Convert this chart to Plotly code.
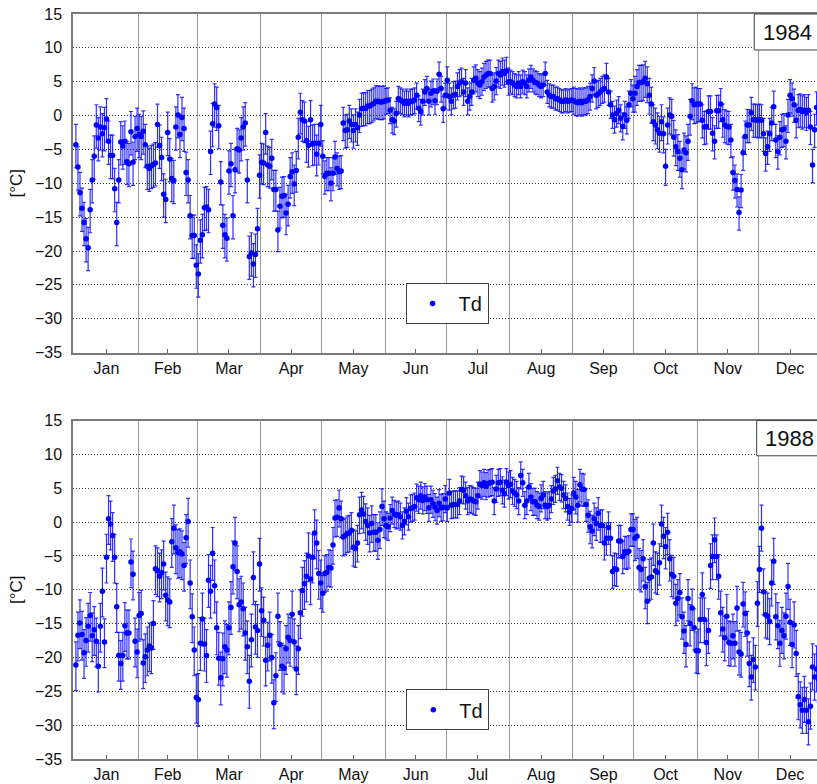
import pandas as pd
import plotly.graph_objects as go

MONTHS = ["Jan", "Feb", "Mar", "Apr", "May", "Jun",
          "Jul", "Aug", "Sep", "Oct", "Nov", "Dec"]

# Daily mean dew point Td [°C], one inner list per month
td_1984 = [
    [-4.3, -7.6, -11.4, -13.7, -15.8, -18.2, -19.5, -13.9, -9.5, -6.0, -1.4, -3.3, -1.7, -2.7, -1.8, -0.5,
     -3.8, -5.9, -5.9, -10.8, -15.8, -9.5, -3.9, -4.5, -3.8, -6.8, -7.1, -2.4, -6.9, -3.1, -1.9],
    [-2.8, -3.1, -2.3, -4.3, -7.5, -7.8, -7.4, -7.2, -7.0, -1.3, -4.4, -6.2, -11.6, -12.4, -2.5, -6.4,
     -9.3, -9.6, -1.7, 0.1, -2.8, -0.3, -1.9, -8.4, -9.5, -14.8, -17.7, -17.7, -22.1],
    [-23.4, -18.4, -17.6, -13.6, -13.5, -13.9, -5.3, -1.2, 1.7, 1.2, -1.5, -9.8, -16.2, -17.6, -18.1, -8.2,
     -7.1, -14.8, -8.0, -4.9, -5.1, -3.3, -1.7, -1.1, -9.5, -20.8, -20.3, -21.9, -20.5, -16.7, -8.8],
    [-6.9, -7.0, -2.5, -7.3, -7.5, -6.3, -10.9, -10.9, -16.9, -13.4, -11.9, -11.8, -14.4, -13.1, -9.0,
     -8.3, -10.1, -8.1, -3.2, 0.5, -0.6, -0.8, -3.7, -4.4, -0.6, -4.2, -4.1, -5.7, -4.1, -1.3],
    [-6.0, -9.0, -8.5, -8.5, -10.0, -8.5, -6.1, -7.8, -8.3, -8.2, -1.1, -2.2, -2.1, -0.8, -1.3, -2.2,
     -1.3, -1.8, 0.1, 1.0, 1.1, 1.1, 1.4, 1.4, 1.6, 1.8, 2.1, 2.1, 2.0, 2.0, 2.1],
    [2.2, 2.3, 0.8, -0.6, -0.8, 0.3, 2.5, 2.3, 2.1, 1.8, 2.1, 1.8, 2.1, 2.1, 2.3, 3.0,
     1.1, 0.6, 2.1, 3.5, 4.0, 2.1, 3.3, 3.6, 2.2, 3.6, 6.1, 4.0, 1.0, 3.0],
    [5.2, 2.8, 2.1, 3.0, 3.1, 4.3, 4.8, 5.0, 3.5, 4.8, 2.1, 2.8, 3.5, 5.2, 5.5, 4.8,
     4.5, 5.0, 5.7, 6.0, 6.2, 6.2, 4.0, 4.3, 5.1, 6.2, 6.0, 6.5, 6.2, 6.6, 5.0],
    [5.0, 4.8, 4.5, 4.3, 4.8, 4.3, 5.0, 4.8, 4.3, 5.2, 5.7, 5.2, 4.9, 4.8, 4.5, 4.3,
     4.5, 6.2, 3.5, 3.0, 2.8, 2.8, 2.5, 2.5, 2.3, 2.1, 2.1, 2.3, 2.1, 2.2, 2.3],
    [2.2, 2.0, 1.9, 2.1, 1.9, 2.1, 2.1, 2.3, 2.8, 4.0, 5.1, 3.0, 3.2, 3.5, 3.8, 4.0,
     5.7, 3.5, 1.6, 0.1, -0.6, 0.3, 0.8, -0.4, -1.6, 0.1, -0.7, 1.6, 3.3, 2.5],
    [3.3, 4.3, 4.9, 4.9, 5.0, 5.5, 4.7, 3.0, 1.7, -0.9, -1.4, -2.1, -2.6, -0.9, -2.7, -7.5,
     -1.4, 0.1, -0.1, -3.2, -4.6, -5.3, -6.3, -8.0, -5.1, -5.5, -3.8, -0.1, 2.2, 1.6, 1.7],
    [1.7, 1.7, -0.7, -1.7, -1.6, 0.6, 0.6, -2.6, -3.8, 0.7, 0.7, 1.7, -0.6, -1.4, -1.6, -1.7,
     -3.6, -8.4, -9.6, -10.9, -14.3, -11.0, -5.5, -3.1, -1.4, -1.4, 0.4, -0.6, -0.6, -0.7],
    [-0.6, -0.7, -2.7, -5.6, -4.6, -2.7, -1.1, 1.3, -3.6, -5.3, -3.2, -2.1, -2.0, -3.8, 0.1, 3.0,
     2.5, 1.6, -0.7, 0.8, 0.9, 0.6, 0.8, 0.4, 0.8, -1.7, -7.3, -2.1, 1.2, 0.5, -0.5],
]

td_1988 = [
    [-21.1, -16.7, -14.9, -16.6, -19.3, -17.5, -15.4, -13.8, -16.8, -15.9, -17.6, -21.3, -15.4, -10.2,
     -17.7, -5.2, 0.5, -0.3, -2.0, -5.2, -12.5, -19.7, -20.9, -19.7, -15.3, -16.4, -16.4, -5.9, -7.7,
     -17.6, -19.2],
    [-13.8, -13.5, -20.8, -19.9, -18.9, -18.3, -18.6, -15.0, -6.9, -7.2, -8.0, -7.5, -6.2, -10.8, -11.5,
     -11.8, -2.9, -0.9, -3.8, -4.5, -4.4, -4.7, -6.4, -2.3, 0.1, -9.0, -14.0, -18.9, -25.9],
    [-26.2, -17.9, -14.3, -18.0, -19.7, -8.6, -10.2, -4.6, -9.4, -15.6, -20.1, -23.0, -20.2, -18.4,
     -18.9, -15.6, -12.6, -6.6, -3.1, -7.3, -12.2, -11.8, -12.8, -16.4, -18.4, -23.5, -17.4, -8.2,
     -15.5, -16.0, -6.2],
    [-13.1, -14.5, -20.4, -18.2, -16.7, -20.0, -26.7, -22.7, -13.9, -18.1, -21.3, -21.6, -18.7, -17.0,
     -17.5, -13.6, -17.7, -21.7, -18.7, -13.4, -10.1, -9.1, -8.0, -5.0, -8.4, -5.2, -1.6, -3.1, -7.6, -9.0],
    [-10.5, -7.6, -7.4, -6.7, -6.8, -3.4, 0.6, 0.7, 2.1, 0.5, -2.2, -2.0, -1.7, -1.6, -1.2, -3.7,
     -3.9, -3.1, 1.1, 1.8, 1.2, 0.1, -0.5, -1.6, -0.2, -1.5, -1.5, -2.7, -1.1, 2.3, 0.5],
    [-0.5, -0.7, 0.6, 1.7, 1.2, 1.0, 1.1, 0.8, -0.5, 0.1, 1.6, 0.8, 2.0, 2.1, 2.3, 3.6,
     3.3, 3.9, 3.2, 3.7, 3.3, 2.1, 3.3, 2.7, 2.2, 1.7, 2.8, 2.1, 2.2, 3.4],
    [2.1, 4.3, 2.5, 2.6, 2.6, 2.6, 3.1, 4.8, 4.7, 3.9, 3.1, 3.4, 3.3, 3.1, 3.0, 3.9,
     5.6, 5.4, 5.8, 5.3, 5.7, 5.8, 5.9, 3.1, 4.9, 5.8, 5.9, 4.7, 4.2, 5.9, 5.4],
    [5.6, 4.6, 4.3, 4.0, 3.1, 6.9, 5.8, 2.5, 3.1, 5.2, 3.7, 3.0, 3.0, 2.5, 2.3, 3.5,
     4.0, 2.5, 2.3, 2.5, 3.4, 4.6, 4.9, 6.1, 5.2, 5.0, 4.0, 3.5, 2.3, 1.5, 2.0],
    [4.3, 3.7, 2.5, 5.5, 4.9, 4.8, 2.6, 1.0, -0.7, -1.3, 0.5, -0.2, 1.3, -0.5, -0.5, -3.1,
     -2.4, -0.8, -2.4, -7.3, -6.9, -7.0, -2.8, -2.8, -5.1, -4.4, -4.5, -4.3, -1.1, -1.1],
    [-2.4, -2.1, -6.7, -7.0, -5.4, -9.5, -11.7, -8.3, -8.1, -3.1, -7.2, -7.4, -6.0, -0.3, -2.1, -3.6,
     -1.5, -5.4, -7.7, -8.0, -12.0, -11.3, -10.4, -14.0, -16.1, -18.1, -11.3, -15.0, -12.7, -15.6, -19.0],
    [-19.0, -14.4, -10.7, -14.4, -17.8, -16.0, -6.4, -5.1, -2.6, -5.1, -8.0, -13.4, -15.8, -17.1, -13.9,
     -17.8, -17.9, -16.8, -17.9, -12.7, -19.2, -19.5, -12.1, -13.5, -16.4, -20.9, -22.9, -20.3, -21.4, -12.0],
    [-7.0, -0.9, -10.3, -13.7, -13.9, -14.7, -9.0, -5.8, -14.0, -15.3, -17.9, -16.0, -16.8, -13.9, -9.5,
     -14.8, -18.1, -15.2, -19.4, -25.8, -27.0, -27.8, -26.2, -27.8, -29.5, -27.2, -21.4, -22.9, -21.7,
     -23.2, -22.0],
]

# Typical extent of the daily range above / below the mean, per month [°C]
err_up_1984 = [3.0, 3.0, 3.0, 2.8, 2.3, 1.8, 2.0, 1.7, 2.0, 2.5, 2.3, 2.3]
err_dn_1984 = [3.4, 3.4, 3.4, 3.2, 2.6, 2.0, 2.0, 1.7, 2.0, 2.8, 2.6, 2.6]
err_up_1988 = [3.4, 3.4, 3.8, 3.4, 2.6, 2.0, 2.0, 2.0, 2.3, 2.8, 3.2, 3.4]
err_dn_1988 = [3.8, 3.8, 4.0, 3.8, 2.8, 2.0, 2.0, 2.0, 2.5, 3.3, 3.4, 3.4]

BLUE = "#0000ff"
GRID_H = "#303030"
GRID_V = "#9a9a9a"
FRAME = "#7a7a7a"
FONT = "Liberation Sans, Arial, sans-serif"


def daily_series(year, months, up, dn):
    xs, ys, eu, ed = [], [], [], []
    for m, vals in enumerate(months):
        start = pd.Timestamp(year=year, month=m + 1, day=1, hour=12)
        for i, v in enumerate(vals):
            xs.append(start + pd.Timedelta(days=i))
            ys.append(v)
            eu.append(up[m])
            ed.append(dn[m])
    return xs, ys, eu, ed


def month_axis(year):
    starts = [pd.Timestamp(year=year, month=m, day=1) for m in range(1, 13)]
    ends = starts[1:] + [pd.Timestamp(year=year + 1, month=1, day=1)]
    mids = [s + (e - s) / 2 for s, e in zip(starts, ends)]
    x0 = starts[0] - pd.Timedelta(hours=22)
    x1 = starts[0] + pd.Timedelta(hours=363.7 * 24)
    return dict(
        type="date",
        range=[x0, x1],
        tickmode="array",
        tickvals=mids,
        ticktext=MONTHS,
        ticks="inside",
        ticklen=4,
        tickwidth=1,
        tickcolor="#666666",
        showgrid=False,
        zeroline=False,
        showline=True,
        linecolor=FRAME,
        linewidth=1.5,
        mirror=True,
        tickfont=dict(family=FONT, size=16, color="#111111"),
        minor=dict(tickmode="array", tickvals=starts[1:], showgrid=True,
                   gridcolor=GRID_V, gridwidth=1, ticks=""),
    )


def temp_axis(domain):
    return dict(
        domain=domain,
        range=[-35, 15],
        tickmode="linear",
        tick0=-35,
        dtick=5,
        showgrid=True,
        gridcolor=GRID_H,
        gridwidth=1,
        griddash="1px,2px",
        zeroline=False,
        showline=True,
        linecolor=FRAME,
        linewidth=1.5,
        mirror=False,
        ticks="",
        ticklabelstandoff=6,
        tickfont=dict(family=FONT, size=16, color="#111111"),
        title=dict(text="[°C]", font=dict(family=FONT, size=17, color="#111111"), standoff=8),
    )


fig = go.Figure()

for year, months, up, dn, xa, ya, lg in [
    (1984, td_1984, err_up_1984, err_dn_1984, "x", "y", "legend"),
    (1988, td_1988, err_up_1988, err_dn_1988, "x2", "y2", "legend2"),
]:
    xs, ys, eu, ed = daily_series(year, months, up, dn)
    fig.add_trace(go.Scatter(
        x=xs, y=ys, mode="markers", name="Td",
        xaxis=xa, yaxis=ya, legend=lg,
        marker=dict(symbol="circle", size=5.5, color=BLUE),
        error_y=dict(type="data", symmetric=False, array=eu, arrayminus=ed,
                     color="rgba(0,0,255,0.82)", thickness=1.2, width=2),
    ))

top_dom = [0.5455, 1.0]
bot_dom = [0.0, 0.4543]

legend_style = dict(
    xanchor="left", yanchor="top",
    bgcolor="white", bordercolor="#404040", borderwidth=1,
    itemwidth=42,
    font=dict(family=FONT, size=20, color="#111111"),
)

fig.update_layout(
    width=817, height=784,
    margin=dict(l=73, r=0, t=14, b=25),
    paper_bgcolor="white", plot_bgcolor="white",
    font=dict(family=FONT),
    xaxis=dict(month_axis(1984), anchor="y"),
    yaxis=dict(temp_axis(top_dom), anchor="x"),
    xaxis2=dict(month_axis(1988), anchor="y2"),
    yaxis2=dict(temp_axis(bot_dom), anchor="x2"),
    legend=dict(legend_style, x=0.447, y=0.639),
    legend2=dict(legend_style, x=0.448, y=0.0936),
    showlegend=True,
)

# Year tags in the upper right corner of each panel
for label, y_top, y_bot, x_left, x_text, y_text in [
    ("1984", 1.0, 0.9517, 0.9157, 0.9603, 0.9758),
    ("1988", 0.4543, 0.4070, 0.9189, 0.9624, 0.4306),
]:
    fig.add_shape(type="rect", xref="paper", yref="paper",
                  x0=x_left, x1=1.03, y0=y_bot, y1=y_top,
                  line=dict(color="#404040", width=1), fillcolor="white", layer="above")
    fig.add_annotation(text=label, xref="paper", yref="paper", x=x_text, y=y_text,
                       xanchor="center", yanchor="middle", showarrow=False,
                       font=dict(family=FONT, size=22, color="#111111"))

fig.write_html("out.html")
